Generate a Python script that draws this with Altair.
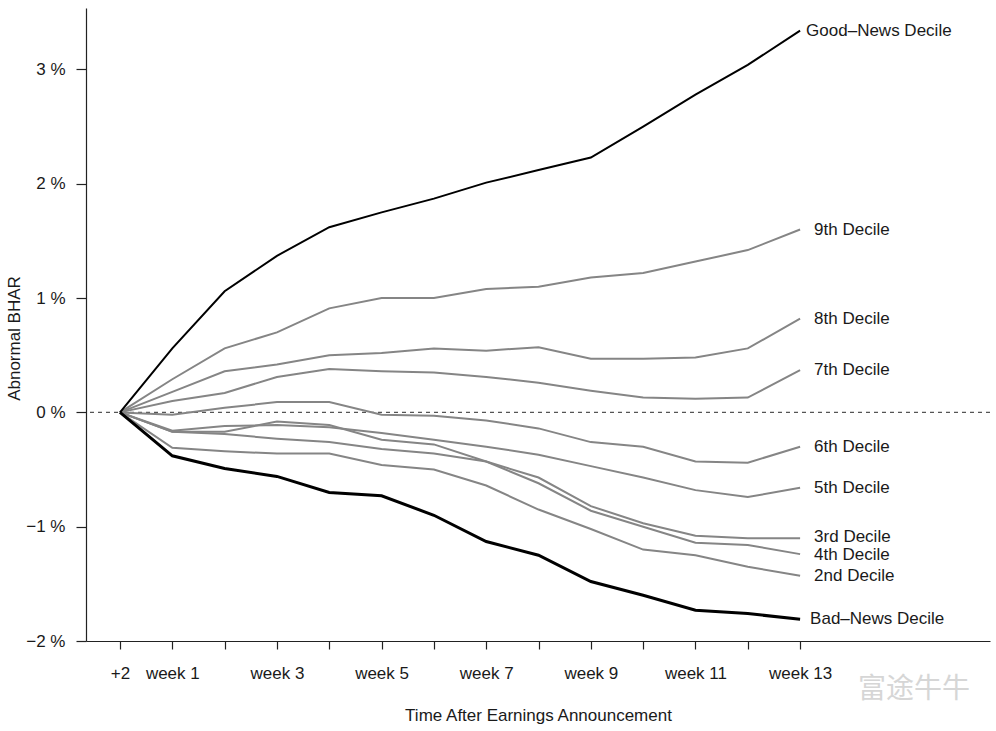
import altair as alt
import pandas as pd

# Event-time positions: 0 = day +2, then weeks 1..13 after the announcement
periods = list(range(14))

# Cumulative abnormal buy-and-hold returns (%) per earnings-surprise decile
good_news = [0, 0.56, 1.06, 1.37, 1.62, 1.75, 1.87, 2.01, 2.12, 2.23, 2.50, 2.78, 3.04, 3.34]
decile_9 = [0, 0.29, 0.56, 0.70, 0.91, 1.00, 1.00, 1.08, 1.10, 1.18, 1.22, 1.32, 1.42, 1.60]
decile_8 = [0, 0.18, 0.36, 0.42, 0.50, 0.52, 0.56, 0.54, 0.57, 0.47, 0.47, 0.48, 0.56, 0.82]
decile_7 = [0, 0.10, 0.17, 0.31, 0.38, 0.36, 0.35, 0.31, 0.26, 0.19, 0.13, 0.12, 0.13, 0.37]
decile_6 = [0, -0.02, 0.04, 0.09, 0.09, -0.02, -0.03, -0.07, -0.14, -0.26, -0.30, -0.43, -0.44, -0.30]
decile_5 = [0, -0.16, -0.12, -0.11, -0.13, -0.18, -0.24, -0.30, -0.37, -0.47, -0.57, -0.68, -0.74, -0.66]
decile_4 = [0, -0.17, -0.19, -0.23, -0.26, -0.32, -0.36, -0.43, -0.62, -0.86, -1.00, -1.14, -1.16, -1.24]
decile_3 = [0, -0.17, -0.17, -0.08, -0.11, -0.24, -0.28, -0.43, -0.57, -0.82, -0.97, -1.08, -1.10, -1.10]
decile_2 = [0, -0.31, -0.34, -0.36, -0.36, -0.46, -0.50, -0.64, -0.85, -1.02, -1.20, -1.25, -1.35, -1.43]
bad_news = [0, -0.38, -0.49, -0.56, -0.70, -0.73, -0.90, -1.13, -1.25, -1.48, -1.60, -1.73, -1.76, -1.81]

grey_series = {
    "9th Decile": decile_9,
    "8th Decile": decile_8,
    "7th Decile": decile_7,
    "6th Decile": decile_6,
    "5th Decile": decile_5,
    "4th Decile": decile_4,
    "3rd Decile": decile_3,
    "2nd Decile": decile_2,
}
extreme_series = {
    "Good–News Decile": good_news,
    "Bad–News Decile": bad_news,
}

FONT = "Liberation Sans"
INK = "#1a1a1a"
FS = 17


def long_frame(series):
    rows = []
    for name, vals in series.items():
        for t, v in zip(periods, vals):
            rows.append({"t": t, "bhar": v, "series": name})
    return pd.DataFrame(rows)


grey_df = long_frame(grey_series)
extreme_df = long_frame(extreme_series)
ends_df = pd.concat([grey_df, extreme_df]).query("t == 13")

x_scale = alt.Scale(domain=[-0.65, 16.63], nice=False, zero=False)
y_scale = alt.Scale(domain=[-2, 3.538], nice=False, zero=False)

x_enc = alt.X(
    "t:Q",
    scale=x_scale,
    title="Time After Earnings Announcement",
    axis=alt.Axis(
        values=periods,
        labelExpr="datum.value == 0 ? '+2' : (datum.value % 2 == 1 ? 'week ' + datum.value : '')",
        labelOverlap=False,
        labelFlush=False,
        grid=False,
        domainColor="#222",
        domainWidth=1.2,
        tickColor="#222",
        tickWidth=1.2,
        tickSize=8,
        labelPadding=16,
        labelFont=FONT,
        labelFontSize=FS,
        labelColor=INK,
        titleFont=FONT,
        titleFontSize=FS,
        titleFontWeight="normal",
        titleColor=INK,
        titleY=74,
        titleBaseline="middle",
    ),
)
y_enc = alt.Y(
    "bhar:Q",
    scale=y_scale,
    title="Abnormal BHAR",
    axis=alt.Axis(
        values=[-2, -1, 0, 1, 2, 3],
        labelExpr="format(datum.value, 'd') + ' %'",
        grid=False,
        domainColor="#222",
        domainWidth=1.2,
        tickColor="#222",
        tickWidth=1.2,
        tickSize=10,
        labelPadding=11,
        labelFont=FONT,
        labelFontSize=FS,
        labelColor=INK,
        titleFont=FONT,
        titleFontSize=FS,
        titleFontWeight="normal",
        titleColor=INK,
        titleX=-72,
        titleY=330,
        titleBaseline="middle",
        titleAngle=-90,
    ),
)

zero_line = alt.Chart(pd.DataFrame({"z": [0]})).mark_rule(
    color="#555", strokeDash=[4, 4], strokeWidth=1.2
).encode(y=alt.Y("z:Q", scale=y_scale))

grey_lines = alt.Chart(grey_df).mark_line(color="#858585", strokeWidth=2).encode(
    x=x_enc, y=y_enc, detail="series:N"
)

good_line = alt.Chart(extreme_df).transform_filter(
    alt.datum.series == "Good–News Decile"
).mark_line(color="#000", strokeWidth=2).encode(x=x_enc, y=y_enc)

bad_line = alt.Chart(extreme_df).transform_filter(
    alt.datum.series == "Bad–News Decile"
).mark_line(color="#000", strokeWidth=3).encode(x=x_enc, y=y_enc)


def end_labels(names, dx, dy=0):
    return alt.Chart(ends_df).transform_filter(
        alt.FieldOneOfPredicate(field="series", oneOf=names)
    ).mark_text(
        align="left", baseline="middle", dx=dx, dy=dy, font=FONT, fontSize=FS, color=INK
    ).encode(
        x=alt.X("t:Q", scale=x_scale),
        y=alt.Y("bhar:Q", scale=y_scale),
        text="series:N",
    )


labels = (
    end_labels(["Good–News Decile"], 6)
    + end_labels(["Bad–News Decile"], 10)
    + end_labels(["3rd Decile"], 14, -1)
    + end_labels(["4th Decile"], 14, 1)
    + end_labels([n for n in grey_series if n not in ("3rd Decile", "4th Decile")], 14)
)

watermark = alt.Chart(pd.DataFrame({"w": ["富途牛牛"]})).mark_text(
    align="left", baseline="middle", font="Noto Sans CJK SC", fontSize=28,
    color="#d6d6d6",
).encode(x=alt.value(772), y=alt.value(682), text="w:N")

chart = (
    alt.layer(zero_line, grey_lines, good_line, bad_line, labels, watermark)
    .properties(
        width=904,
        height=633,
        padding={"left": 86, "top": 8, "right": 6, "bottom": 90},
        autosize=alt.AutoSizeParams(type="none"),
        background="white",
    )
    .configure_view(stroke=None)
)

chart.save("out.html", embed_options={"renderer": "svg", "actions": False})
